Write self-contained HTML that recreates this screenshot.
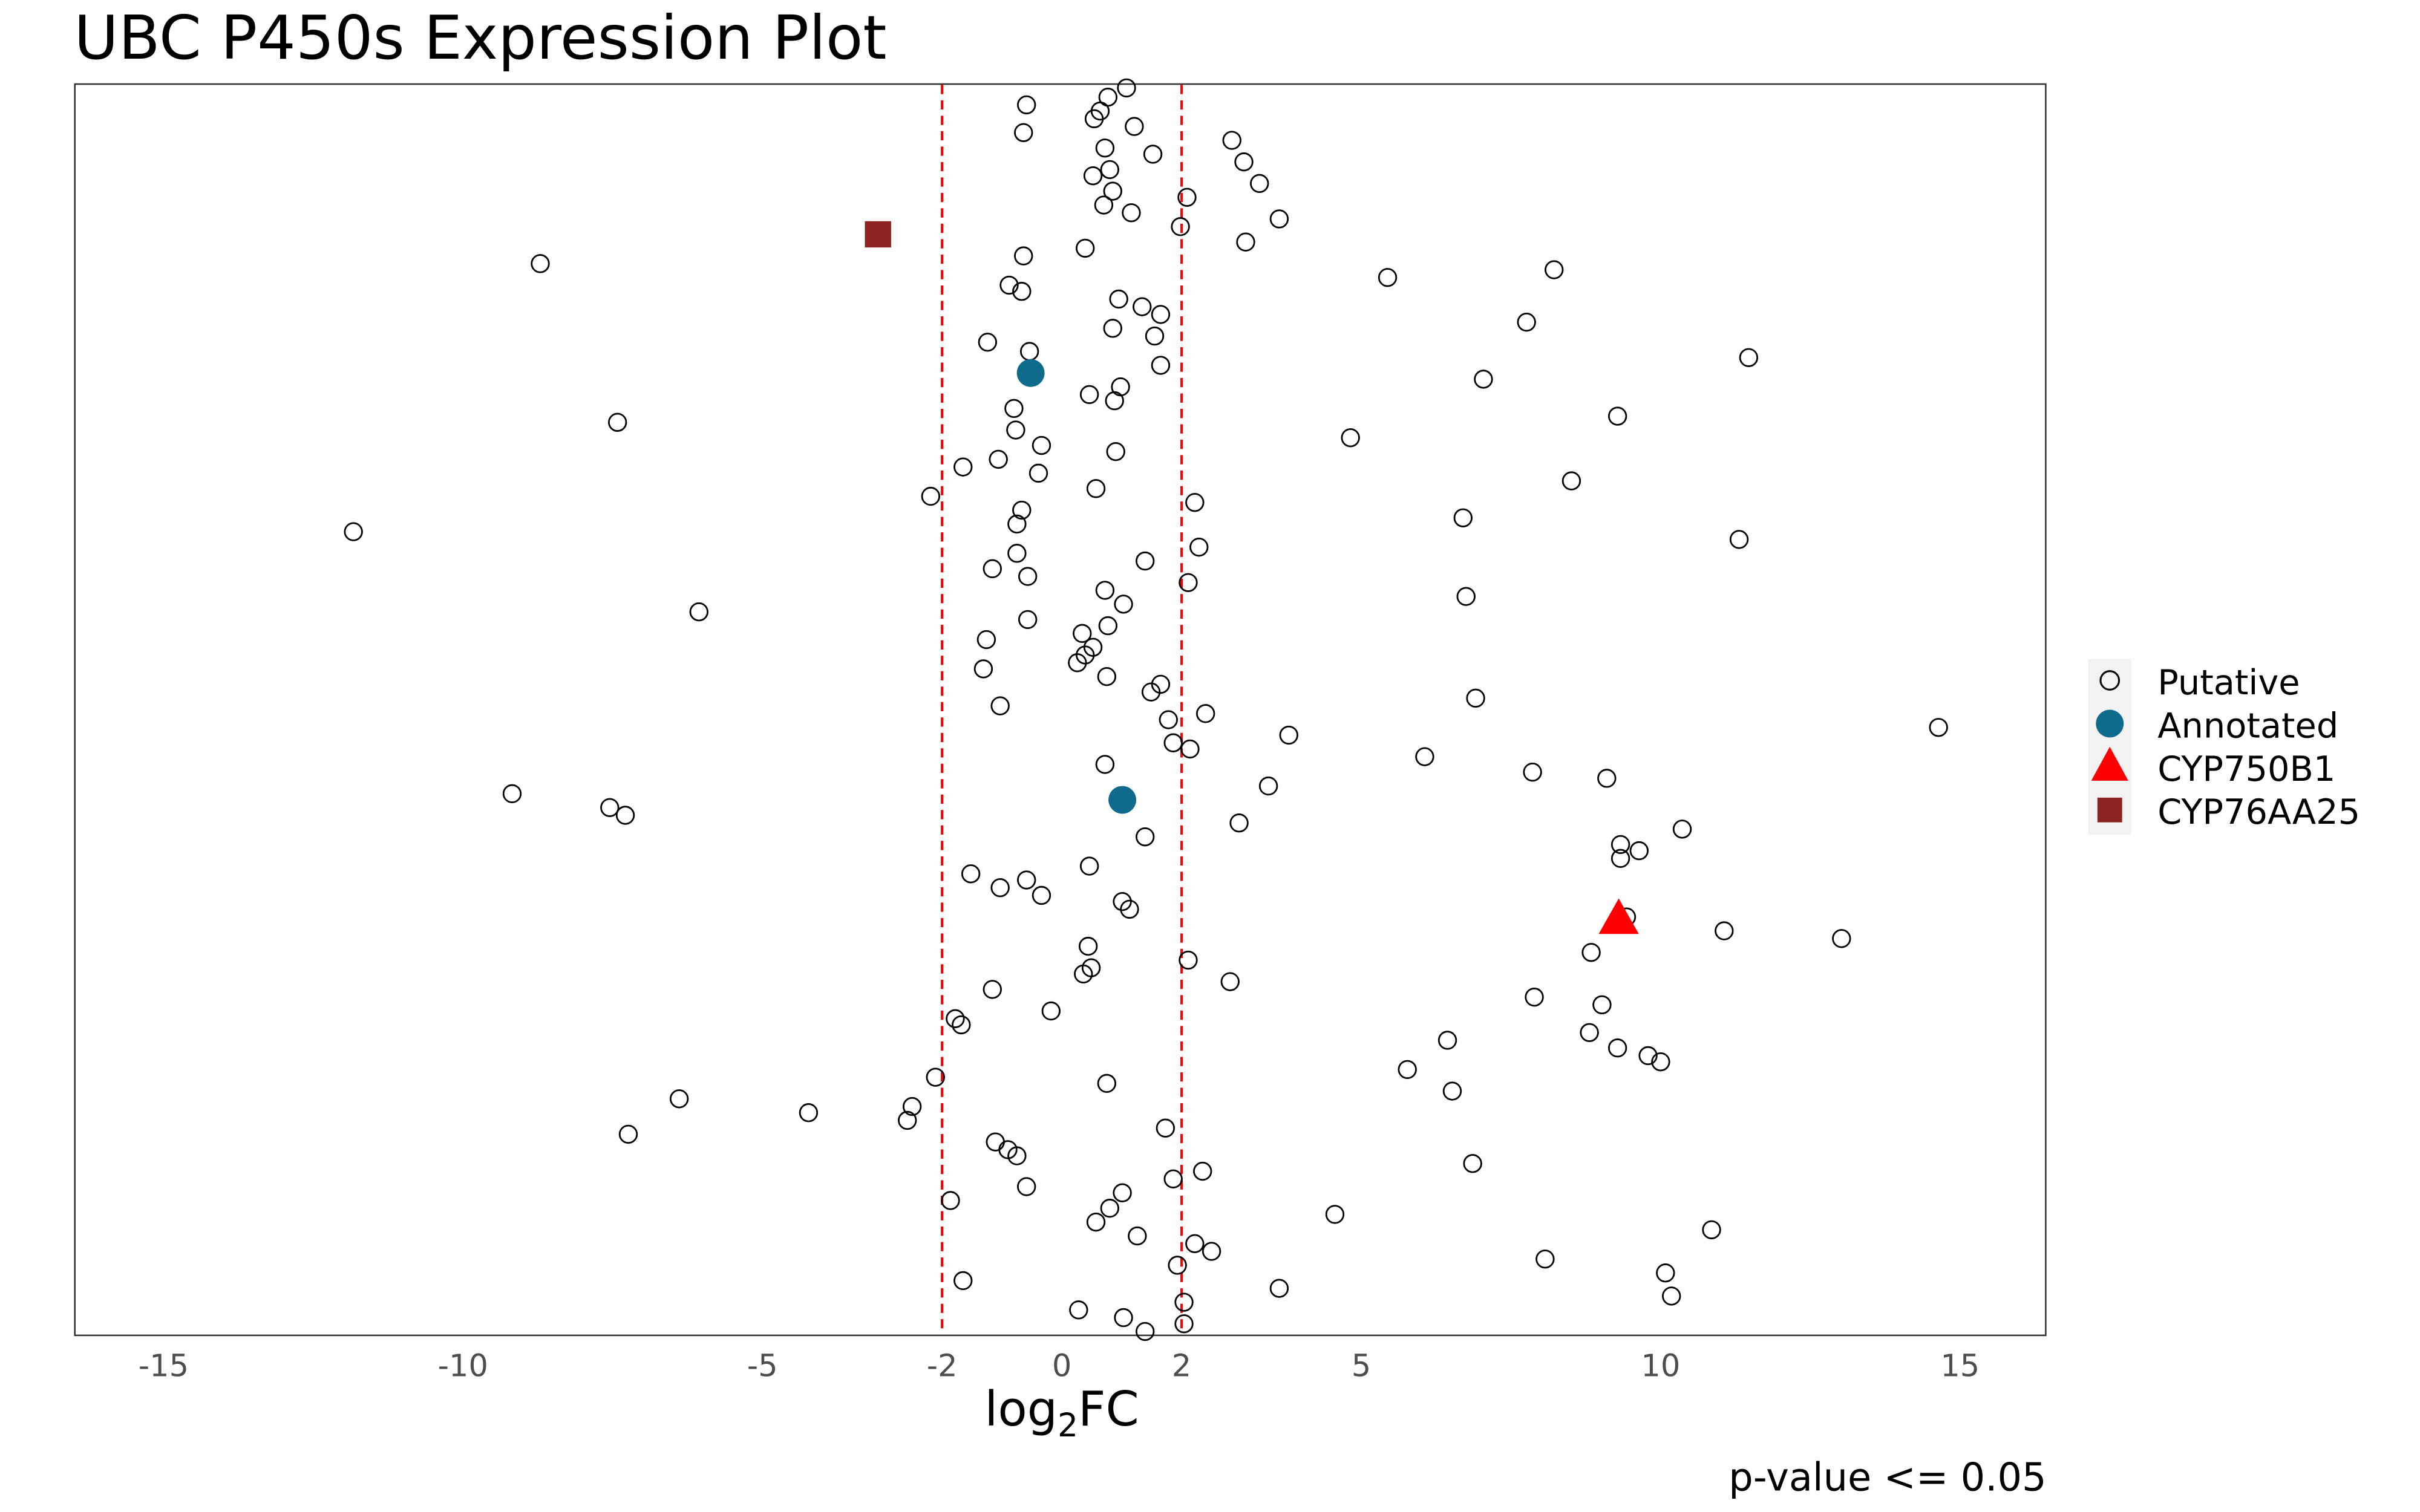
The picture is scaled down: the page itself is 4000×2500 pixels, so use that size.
<!DOCTYPE html>
<html><head><meta charset="utf-8"><style>
html,body{margin:0;padding:0;background:#fff;}
svg{display:block;font-family:"DejaVu Sans","Liberation Sans",sans-serif;}
</style></head><body>
<svg id="chart" width="4000" height="2500" viewBox="0 0 1568 980" xmlns="http://www.w3.org/2000/svg">
<rect x="0" y="0" width="1568" height="980" fill="#fff"/>
<text x="48" y="38" font-size="39.3" fill="#000">UBC P450s Expression Plot</text>
<rect x="48.5" y="54.5" width="1277" height="811" fill="#fff" stroke="#333" stroke-width="1"/>
<g id="marks"></g>
<g id="xticks"></g>
<text x="688" y="924" text-anchor="middle" font-size="31" fill="#000">log<tspan font-size="21" dy="7">2</tspan><tspan dy="-7">FC</tspan></text>
<text x="1326" y="966" text-anchor="end" font-size="25" fill="#000">p-value &lt;= 0.05</text>
<g>
<rect x="1353" y="427" width="28" height="114" fill="#f2f2f2"/>
<circle cx="1367" cy="441" r="6" fill="none" stroke="#000" stroke-width="1.2"/>
<circle cx="1367" cy="469" r="9" fill="#0f6b8c"/>
<polygon points="1367,484 1379,506 1355,506" fill="#ff0000"/>
<rect x="1359" y="517" width="16" height="16" fill="#8b2323"/>
<text x="1398" y="450" font-size="22.5">Putative</text>
<text x="1398" y="478" font-size="22.5">Annotated</text>
<text x="1398" y="506" font-size="22.5">CYP750B1</text>
<text x="1398" y="534" font-size="22.5">CYP76AA25</text>
</g>
</svg>
<script>
const tickValues = [-15,-10,-5,-2,0,2,5,10,15];
const tickLabels = ["-15","-10","-5","-2","0","2","5","10","15"];
const thresholds = [-2, 2];
const putativeX = [1.08,-0.59,0.77,0.64,0.54,-0.64,1.21,2.84,0.72,3.04,1.52,0.80,0.52,3.30,0.85,2.09,0.70,1.16,3.63,1.98,3.07,0.39,-0.64,-8.71,5.44,8.22,-0.88,-0.67,0.95,1.34,1.65,7.76,0.85,1.55,-1.24,-0.54,11.47,1.65,7.04,0.98,0.46,0.88,-0.80,9.28,-7.42,-0.77,4.82,-0.34,0.90,-1.06,-1.65,-0.39,8.51,0.57,-2.19,2.22,-0.67,6.70,-0.75,-11.83,11.31,2.29,-0.75,1.39,-1.16,-0.57,2.11,0.72,6.75,1.03,-6.06,-0.57,0.77,0.34,-1.26,0.52,0.39,0.26,-1.31,0.75,1.65,1.49,6.91,-1.03,2.40,1.78,14.64,3.79,1.86,2.14,6.06,0.72,7.86,9.10,3.45,-9.18,-7.55,-7.29,2.96,10.36,1.39,9.33,9.64,9.33,0.46,-1.52,-0.59,-1.03,-0.34,1.01,1.13,9.43,11.06,13.02,0.44,8.84,2.11,0.49,0.36,2.81,-1.16,7.89,9.02,-0.18,-1.78,-1.68,8.81,6.44,9.28,9.79,10.0,5.77,-2.11,0.75,6.52,-6.39,-2.50,-4.23,-2.58,1.73,-7.24,-1.11,-0.90,-0.75,6.86,2.35,1.86,-0.59,1.01,-1.86,0.80,4.56,0.57,10.85,1.26,2.22,2.50,8.07,1.93,10.08,-1.65,3.63,10.18,2.04,0.28,1.03,2.04,1.39];
const putativeY = [810,799,804,795,790,781,785,776,771,762,767,757,753,748,743,739,734,729,725,720,710,706,701,696,687,692,682,678,673,668,663,658,654,649,645,639,635,630,621,616,611,607,602,597,593,588,583,578,574,569,564,560,555,550,545,541,536,531,527,522,517,512,508,503,498,493,489,484,480,475,470,465,461,456,452,447,442,437,433,428,423,418,414,409,404,400,395,390,385,381,376,371,366,362,357,352,343,338,333,329,324,319,315,310,305,300,296,291,286,282,277,272,263,258,253,249,244,239,235,230,225,220,215,211,206,202,197,192,187,182,178,173,168,164,159,154,149,145,140,135,131,126,121,117,112,107,102,97,93,88,83,79,74,69,65,60,55,50,46,41,36,31,26,22,17,12,8,3];
const annotatedX = [-0.52, 1.01];
const annotatedY = [625, 348];
const cyp750X = [9.30];
const cyp750Y = [270];
const cyp76X = [-3.07];
const cyp76Y = [715];

const NS = "http://www.w3.org/2000/svg";
const xs = v => 688 + v * 38.8;
const ys = v => 866 - v * (811 / 812);
const marks = document.getElementById('marks');
const ticks = document.getElementById('xticks');
function mk(tag, attrs, parent) {
  const e = document.createElementNS(NS, tag);
  for (const k in attrs) e.setAttribute(k, attrs[k]);
  parent.appendChild(e);
  return e;
}
thresholds.forEach((t, i) => {
  const l = mk('line', {x1: xs(t), x2: xs(t), y1: 55, y2: 865, stroke: '#ff0000', 'stroke-width': 1.6, 'stroke-dasharray': '6,4'}, marks);
  
  
});
putativeX.forEach((x, i) => {
  const c = mk('circle', {cx: xs(x), cy: ys(putativeY[i]), r: 5.6, fill: 'none', stroke: '#000', 'stroke-width': 1.1}, marks);
  
  
});
annotatedX.forEach((x, i) => {
  const c = mk('circle', {cx: xs(x), cy: ys(annotatedY[i]), r: 9, fill: '#0f6b8c'}, marks);
  
  
});
cyp750X.forEach((x, i) => {
  const cx = xs(x), cy = ys(cyp750Y[i]);
  const p = mk('polygon', {points: `${cx},${cy-14} ${cx+13},${cy+9} ${cx-13},${cy+9}`, fill: '#ff0000'}, marks);
  
  
});
cyp76X.forEach((x, i) => {
  const r = mk('rect', {x: xs(x) - 8.5, y: ys(cyp76Y[i]) - 8.5, width: 17, height: 17, fill: '#8b2323'}, marks);
  
  
});
tickValues.forEach((v, i) => {
  const t = mk('text', {x: xs(v), y: 892, 'text-anchor': 'middle', 'font-size': 20, fill: '#4d4d4d'}, ticks);
  t.textContent = tickLabels[i];
  
  
});
</script>
</body></html>
